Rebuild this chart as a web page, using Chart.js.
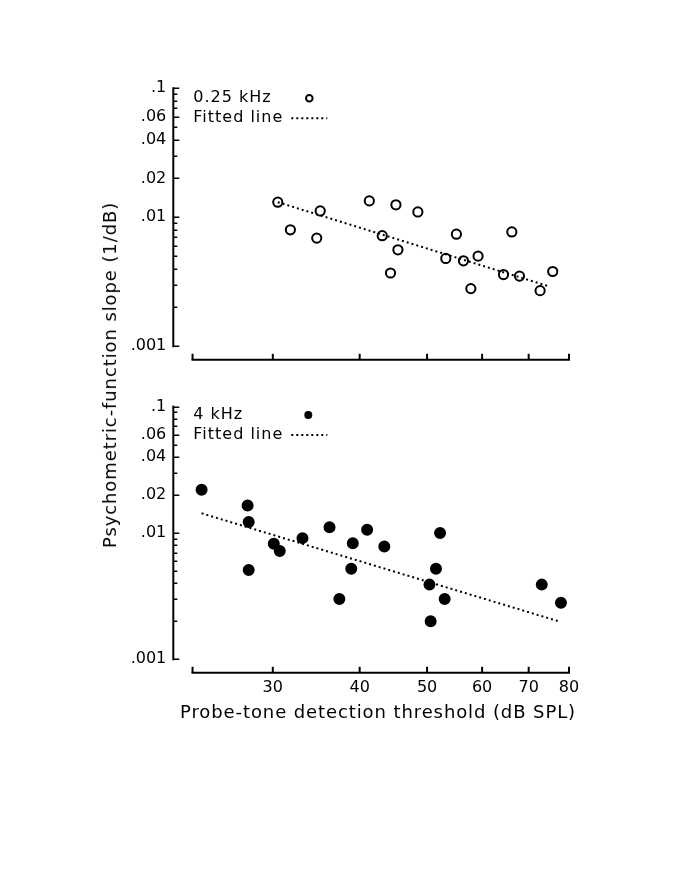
<!DOCTYPE html>
<html>
<head>
<meta charset="utf-8">
<title>Psychometric-function slope vs probe-tone threshold</title>
<script src="https://cdn.jsdelivr.net/npm/chart.js@4.4.1/dist/chart.umd.min.js"></script>
<style>
	html, body { margin: 0; padding: 0; background: #fff; }
	#page { position: relative; width: 685px; height: 886px; font-family: 'DejaVu Sans', sans-serif; color: #000; }
	canvas { position: absolute; left: 0; }
	#chart-top { top: 0; }
	#chart-bottom { top: 390px; }
	.axis-title { position: absolute; font-size: 18px; line-height: 18px; letter-spacing: 0.9px; white-space: nowrap; }
	#title-y { left: 110px; top: 375px; transform: translate(-50%, -50%) rotate(-90deg); }
	#title-x { left: 378px; top: 703px; transform: translateX(-50%); }
</style>
</head>
<body>
<div id="page">
	<canvas id="chart-top" width="685" height="400"></canvas>
	<canvas id="chart-bottom" width="685" height="496"></canvas>
	<div class="axis-title" id="title-y">Psychometric-function slope (1/dB)</div>
	<div class="axis-title" id="title-x">Probe-tone detection threshold (dB SPL)</div>
</div>
<script>
// 0.25 kHz (open circles)
var lowThreshold = [30.5, 31.8, 35.1, 34.7, 41.3, 43.1, 45.1, 45.4, 44.3, 48.5, 53.2, 55.1, 56.4, 57.8, 59.2, 64.4, 66.2, 67.9, 72.7, 75.8];
var lowSlope = [0.0131, 0.0080, 0.0112, 0.0069, 0.0134, 0.0072, 0.0125, 0.0056, 0.0037, 0.0110, 0.0048, 0.0074, 0.0046, 0.0028, 0.0050, 0.0036, 0.0077, 0.0035, 0.0027, 0.0038];
var lowFitX = [30.5, 75.1];
var lowFitY = [0.0131, 0.0029];

// 4 kHz (filled circles)
var highThreshold = [23.7, 27.6, 27.7, 27.7, 30.1, 30.7, 33.1, 36.2, 37.4, 39.1, 38.9, 41.0, 43.4, 50.4, 50.6, 51.5, 52.2, 53.0, 73.1, 77.9];
var highSlope = [0.0220, 0.0165, 0.0122, 0.0051, 0.0082, 0.0072, 0.0091, 0.0111, 0.0030, 0.0083, 0.0052, 0.0106, 0.0078, 0.0039, 0.0020, 0.0052, 0.0100, 0.0030, 0.0039, 0.0028];
var highFitX = [23.7, 77.3];
var highFitY = [0.0143, 0.0020];

var xTickValues = [30, 40, 50, 60, 70, 80];
var yTickLabels = [0.001, 0.01, 0.02, 0.04, 0.06, 0.1];
var yDecades = [0.001, 0.01];

var xMin = 21.58, xMax = 80, xAxisStart = 23;
var yMin = 0.001, yMax = 0.1;

Chart.defaults.font.family = "'DejaVu Sans', sans-serif";
Chart.defaults.font.size = 16;
Chart.defaults.color = '#000';

function toPoints(xs, ys) {
	return xs.map(function(x, i) { return { x: x, y: ys[i] }; });
}

function isLabelled(v) {
	return yTickLabels.some(function(t) { return Math.abs(t - v) < v * 1e-6; });
}

// axes drawn apart from each other (y axis on the left edge, x axis dropped below), ticks inward, plus the key
var panelAxes = {
	id: 'panelAxes',
	afterDraw: function(chart, args, opts) {
		var ctx = chart.ctx;
		var xs = chart.scales.x;
		var ys = chart.scales.y;
		var area = chart.chartArea;
		ctx.save();
		ctx.strokeStyle = '#000';
		ctx.fillStyle = '#000';

		// y axis
		ctx.lineWidth = 2;
		ctx.beginPath();
		ctx.moveTo(area.left, ys.getPixelForValue(yMax) - 1);
		ctx.lineTo(area.left, ys.getPixelForValue(yMin) + 1);
		ctx.stroke();
		ctx.lineWidth = 1.5;
		var yMarks = [yMax];
		yDecades.forEach(function(d) {
			for (var m = 1; m < 10; m++) yMarks.push(m * d);
		});
		yMarks.forEach(function(v) {
			var p = Math.round(ys.getPixelForValue(v)) + 0.25;
			var len = isLabelled(v) ? 6 : 4;
			ctx.beginPath();
			ctx.moveTo(area.left, p);
			ctx.lineTo(area.left + len, p);
			ctx.stroke();
		});

		// x axis
		var axisY = area.bottom + 13.5;
		var x0 = xs.getPixelForValue(xAxisStart);
		var x1 = xs.getPixelForValue(xMax);
		ctx.lineWidth = 2;
		ctx.beginPath();
		ctx.moveTo(x0 - 1, axisY);
		ctx.lineTo(x1 + 1, axisY);
		ctx.stroke();
		[xAxisStart].concat(xTickValues).forEach(function(v) {
			var p = xs.getPixelForValue(v);
			ctx.beginPath();
			ctx.moveTo(p, axisY);
			ctx.lineTo(p, axisY - 6);
			ctx.stroke();
		});

		// key
		var kx = area.left + 20;
		var ky = area.top + opts.keyTop;
		ctx.font = "16px 'DejaVu Sans', sans-serif";
		ctx.letterSpacing = '1px';
		ctx.textBaseline = 'alphabetic';
		ctx.textAlign = 'left';
		ctx.fillText(opts.keyLabel, kx, ky);
		ctx.fillText('Fitted line', kx, ky + 20);
		ctx.beginPath();
		ctx.arc(area.left + opts.markerX, ky - 4, opts.markerRadius, 0, Math.PI * 2);
		if (opts.filled) {
			ctx.fill();
		} else {
			ctx.lineWidth = 2;
			ctx.stroke();
		}
		ctx.lineWidth = 2;
		ctx.setLineDash([2, 3]);
		ctx.beginPath();
		ctx.moveTo(area.left + 118, ky + 16);
		ctx.lineTo(area.left + 154, ky + 16);
		ctx.stroke();
		ctx.restore();
	}
};

function panelConfig(thr, slope, fitX, fitY, filled, key, showXLabels, padding, xHeight) {
	return {
		type: 'scatter',
		data: {
			datasets: [
				{
					label: key.label,
					data: toPoints(thr, slope),
					pointStyle: 'circle',
					pointRadius: filled ? 5 : 4.6,
					borderWidth: 2,
					borderColor: '#000',
					backgroundColor: filled ? '#000' : 'rgba(0,0,0,0)',
					order: 0
				},
				{
					label: 'Fitted line',
					data: toPoints(fitX, fitY),
					showLine: true,
					pointRadius: 0,
					borderColor: '#000',
					borderWidth: 2,
					borderDash: [2, 3],
					order: 1
				}
			]
		},
		options: {
			responsive: false,
			animation: false,
			events: [],
			devicePixelRatio: 1,
			layout: { padding: padding },
			plugins: {
				legend: { display: false },
				tooltip: { enabled: false },
				panelAxes: {
					keyLabel: key.label,
					keyTop: key.top,
					markerX: key.markerX,
					markerRadius: filled ? 4 : 3.3,
					filled: filled
				}
			},
			scales: {
				x: {
					type: 'logarithmic',
					min: xMin,
					max: xMax,
					grid: { display: false, drawTicks: false },
					border: { display: false },
					ticks: {
						display: showXLabels,
						padding: 19,
						autoSkip: false,
						maxRotation: 0,
						callback: function(v) { return String(v); }
					},
					afterBuildTicks: function(s) {
						s.ticks = xTickValues.map(function(v) { return { value: v }; });
					},
					afterFit: function(s) { s.height = xHeight; }
				},
				y: {
					type: 'logarithmic',
					min: yMin,
					max: yMax,
					grid: { display: false, drawTicks: false },
					border: { display: false },
					ticks: {
						padding: 7,
						autoSkip: false,
						callback: function(v) { return String(v).replace(/^0\./, '.'); }
					},
					afterBuildTicks: function(s) {
						s.ticks = yTickLabels.map(function(v) { return { value: v }; });
					},
					afterFit: function(s) { s.width = 60; }
				}
			}
		},
		plugins: [panelAxes]
	};
}

var chartTop = new Chart(document.getElementById('chart-top'), panelConfig(
	lowThreshold, lowSlope, lowFitX, lowFitY, false,
	{ label: '0.25 kHz', top: 14, markerX: 136 },
	false,
	{ left: 113.3, top: 88.3, right: 116, bottom: 33.7 },
	20
));

var chartBottom = new Chart(document.getElementById('chart-bottom'), panelConfig(
	highThreshold, highSlope, highFitX, highFitY, true,
	{ label: '4 kHz', top: 12.4, markerX: 135 },
	true,
	{ left: 113.3, top: 12.3, right: 116, bottom: 166.7 },
	60
));
</script>
</body>
</html>
